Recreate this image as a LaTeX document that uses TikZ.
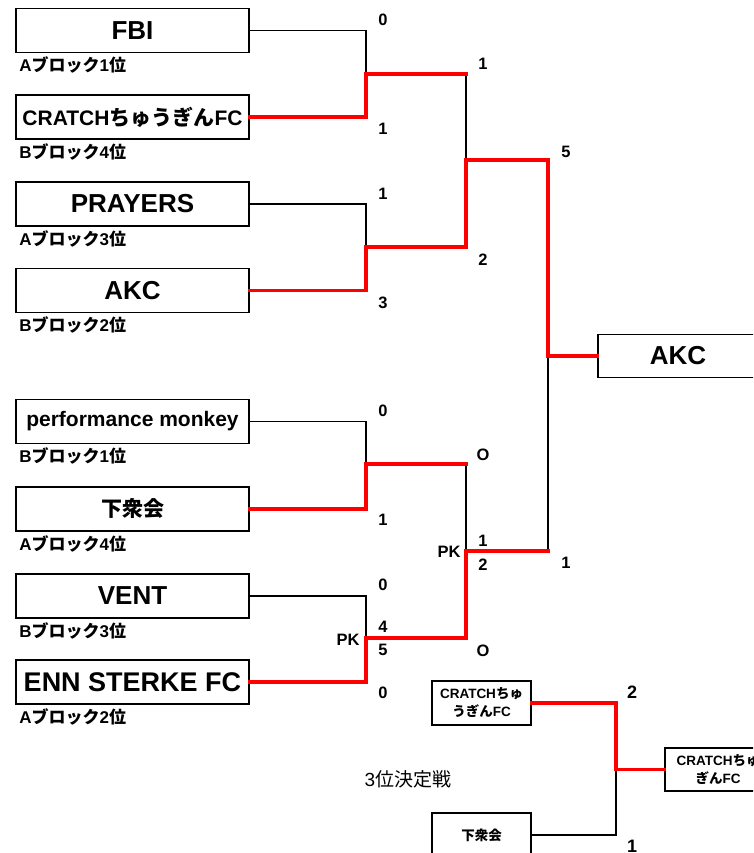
\documentclass[tikz,border=0pt]{standalone}
\usepackage{fontspec}
\setmainfont{Liberation Sans}
\newfontfamily\jp{Noto Sans CJK JP}
\usetikzlibrary{calc,positioning}
\definecolor{winred}{HTML}{FF0000}
\newcommand{\blockrank}[2]{#1{\jp ブロック}#2{\jp 位}}
\tikzset{
  teambox/.style={
    draw=black,
    line width=1.6pt,
    fill=white,
    minimum width=233pt,
    minimum height=44pt,
    inner sep=0pt,
    align=center,
    font=\fontsize{26}{30}\selectfont\bfseries,
  },
  smallteam/.style={teambox, minimum width=99pt, font=\fontsize{13.5}{18}\selectfont\bfseries},
  ranknote/.style={anchor=west, inner sep=0pt, font=\fontsize{17}{19}\selectfont\bfseries},
  score/.style={inner sep=0pt, font=\fontsize{16.5}{18}\selectfont\bfseries},
  loseline/.style={draw=black, line width=1.5pt},
  winline/.style={draw=winred, line width=3.2pt},
}

\begin{document}
\begin{tikzpicture}[x=1pt, y=-1pt, line cap=rect, line join=miter]
  \useasboundingbox (0,0) rectangle (753,853);
  \clip (0,0) rectangle (753,853);

  \node[teambox] (fbi) at (132.5, 30.5) {FBI};
  \node[teambox, font=\fontsize{21}{24}\selectfont\bfseries] (cratch) at (132.5, 117) {CRATCH{\jp ちゅうぎん}FC};
  \node[teambox] (prayers) at (132.5, 204) {PRAYERS};
  \node[teambox] (akc) at (132.5, 290.5) {AKC};
  \node[teambox, font=\fontsize{21}{24}\selectfont\bfseries] (monkey) at (132.5, 421.5) {performance monkey};
  \node[teambox, font=\fontsize{21}{24}\selectfont\bfseries\jp] (gesu) at (132.5, 509) {下衆会};
  \node[teambox] (vent) at (132.5, 596) {VENT};
  \node[teambox, font=\fontsize{27}{30}\selectfont\bfseries] (enn) at (132.5, 682) {ENN STERKE FC};
  \node[teambox, minimum width=160pt, minimum height=43pt] (champ) at (678, 356) {AKC};

  \node[ranknote] (rfbi) at ($(fbi.south west)+(4,12)$) {\blockrank{A}{1}};
  \node[ranknote] (rcratch) at ($(cratch.south west)+(4,12)$) {\blockrank{B}{4}};
  \node[ranknote] (rprayers) at ($(prayers.south west)+(4,12)$) {\blockrank{A}{3}};
  \node[ranknote] (rakc) at ($(akc.south west)+(4,12)$) {\blockrank{B}{2}};
  \node[ranknote] (rmonkey) at ($(monkey.south west)+(4,12)$) {\blockrank{B}{1}};
  \node[ranknote] (rgesu) at ($(gesu.south west)+(4,12)$) {\blockrank{A}{4}};
  \node[ranknote] (rvent) at ($(vent.south west)+(4,12)$) {\blockrank{B}{3}};
  \node[ranknote] (renn) at ($(enn.south west)+(4,12)$) {\blockrank{A}{2}};

  % bracket joints
  \coordinate (j1) at (366, 74);
  \coordinate (j2) at (366, 247);
  \coordinate (j3) at (366, 464);
  \coordinate (j4) at (366, 638);
  \coordinate (a1) at (466, 74);
  \coordinate (a2) at (466, 247);
  \coordinate (a3) at (466, 464);
  \coordinate (a4) at (466, 638);
  \coordinate (k1) at (466, 160);
  \coordinate (k2) at (466, 551);
  \coordinate (f1) at (548, 356);
  \coordinate (f2) at (548, 551);

  \draw[loseline] (fbi.east) -| (j1);
  \draw[loseline] (prayers.east) -| (j2);
  \draw[loseline] (monkey.east) -| (j3);
  \draw[loseline] (vent.east) -| (j4);
  \draw[loseline] (a1) -- (k1);
  \draw[loseline] (a3) -- (k2);
  \draw[loseline] (f1) -- (f2);

  \draw[winline] (cratch.east) -| (j1) -- (a1);
  \draw[winline] (akc.east) -| (j2) -- (a2) -- (k1) -| (f1) -- (champ.west);
  \draw[winline] (gesu.east) -| (j3) -- (a3);
  \draw[winline] (enn.east) -| (j4) -- (a4) -- (k2) -- (f2);

  \node[score] (s1) at (383, 20) {0};
  \node[score] (s2) at (383, 129) {1};
  \node[score] (s3) at (383, 194) {1};
  \node[score] (s4) at (383, 303) {3};
  \node[score] (s5) at (483, 64) {1};
  \node[score] (s6) at (483, 260) {2};
  \node[score] (s7) at (566, 152) {5};
  \node[score] (s8) at (383, 411) {0};
  \node[score] (s9) at (383, 520) {1};
  \node[score] (s10) at (383, 585) {0};
  \node[score] (s11) at (383, 627) {4};
  \node[score] (s12) at (383, 650) {5};
  \node[score] (s13) at (383, 693) {0};
  \node[score] (pk1) at (348, 640) {PK};
  \node[score] (s14) at (483, 455) {O};
  \node[score] (s15) at (483, 541) {1};
  \node[score] (s16) at (483, 565) {2};
  \node[score] (s17) at (483, 651) {O};
  \node[score] (pk2) at (449, 552) {PK};
  \node[score] (s18) at (566, 563) {1};

  % third place match
  \node[font=\fontsize{19}{22}\selectfont] (third) at (408, 779) {3{\jp 位決定戦}};
  \node[smallteam] (t1) at (481.5, 703) {CRATCH{\jp ちゅ}\\{\jp うぎん}FC};
  \node[smallteam] (t2) at (481.5, 835) {\jp 下衆会};
  \node[smallteam, minimum width=106pt, minimum height=43pt] (t3) at (718, 769.5) {CRATCH{\jp ちゅ}\\{\jp ぎん}FC};
  \coordinate (c3) at (616, 769.5);

  \draw[loseline] (t2.east) -| (c3);
  \draw[winline] (t1.east) -| (c3) -- (t3.west);
  \node[score, font=\fontsize{18}{20}\selectfont\bfseries] (s19) at (632, 692) {2};
  \node[score, font=\fontsize{18}{20}\selectfont\bfseries] (s20) at (632, 846) {1};
\end{tikzpicture}
\end{document}
